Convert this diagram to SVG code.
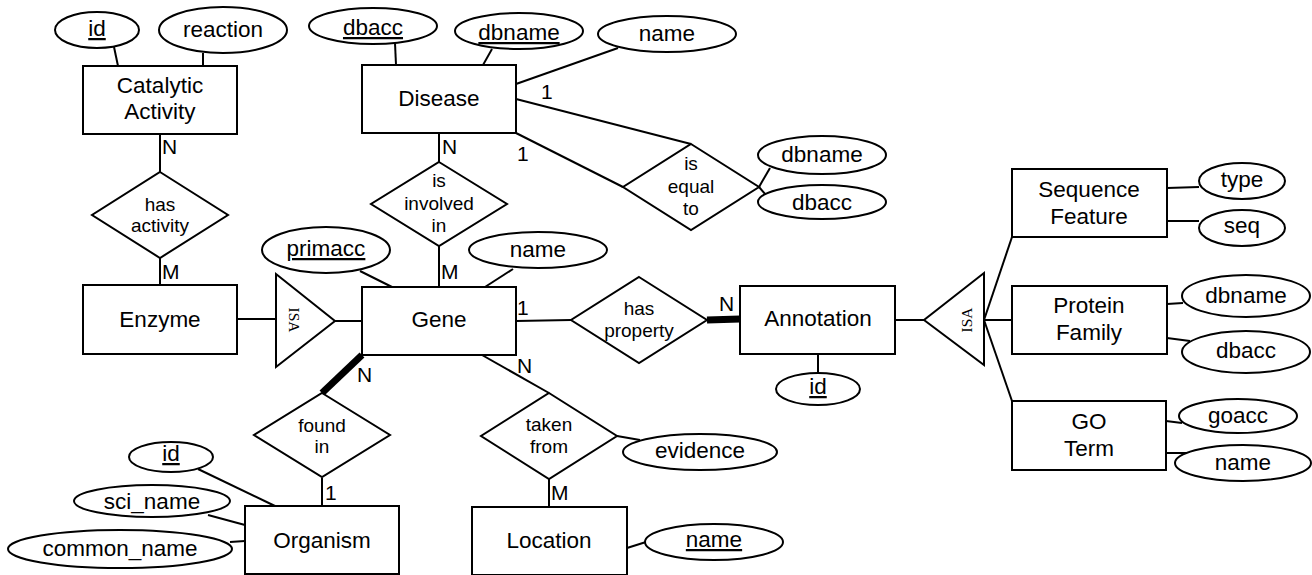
<svg xmlns="http://www.w3.org/2000/svg" width="1312" height="575" viewBox="0 0 1312 575">
<style>
text{font-family:"Liberation Sans",Arial,sans-serif;fill:#000}
.ent{fill:#fff;stroke:#000;stroke-width:2}
.att{fill:#fff;stroke:#000;stroke-width:2}
.rel{fill:#fff;stroke:#000;stroke-width:2}
.isa{fill:#fff;stroke:#000;stroke-width:2}
.t{font-size:22.5px;text-anchor:middle}
.r{font-size:19px;text-anchor:middle}
.k{font-size:21px}
.u{text-decoration:underline}
.s{font-family:"Liberation Serif","Times New Roman",serif;font-size:15.5px;text-anchor:middle;dominant-baseline:central}
#connectors line{stroke:#000;stroke-width:2}
#connectors line.thick{stroke-width:7}
</style>
<rect width="1312" height="575" fill="#fff"/>
<g id="connectors">
<line x1="114" y1="47" x2="118" y2="66"/>
<line x1="203" y1="53" x2="203" y2="66"/>
<line x1="160" y1="134" x2="160" y2="172"/>
<line x1="160" y1="258" x2="160" y2="285"/>
<line x1="237" y1="319" x2="276" y2="319"/>
<line x1="335" y1="321" x2="362" y2="321"/>
<line x1="395" y1="43" x2="396" y2="65"/>
<line x1="492" y1="49" x2="483" y2="65"/>
<line x1="618" y1="48" x2="516" y2="84"/>
<line x1="516" y1="99" x2="691" y2="144"/>
<line x1="516" y1="133" x2="623" y2="187"/>
<line x1="759" y1="187" x2="770" y2="168"/>
<line x1="759" y1="187" x2="766" y2="195"/>
<line x1="439" y1="133" x2="439" y2="162"/>
<line x1="439" y1="246" x2="439" y2="287"/>
<line x1="360" y1="271" x2="392" y2="287"/>
<line x1="513" y1="269" x2="485" y2="287"/>
<line x1="516" y1="321" x2="571" y2="320"/>
<line class="thick" x1="707" y1="320" x2="740" y2="319"/>
<line x1="818" y1="354" x2="818" y2="373"/>
<line x1="895" y1="320" x2="924" y2="320"/>
<line x1="984" y1="320" x2="1012" y2="237"/>
<line x1="984" y1="320" x2="1012" y2="320"/>
<line x1="984" y1="320" x2="1012" y2="401"/>
<line x1="1167" y1="188" x2="1199" y2="187"/>
<line x1="1167" y1="221" x2="1199" y2="221"/>
<line x1="1167" y1="304" x2="1183" y2="303"/>
<line x1="1167" y1="338" x2="1190" y2="341"/>
<line x1="1166" y1="421" x2="1182" y2="423"/>
<line x1="1166" y1="453" x2="1190" y2="453"/>
<line class="thick" x1="362" y1="355" x2="322" y2="393"/>
<line x1="322" y1="478" x2="322" y2="506"/>
<line x1="198" y1="469" x2="275" y2="506"/>
<line x1="208" y1="515" x2="245" y2="525"/>
<line x1="230" y1="542" x2="245" y2="541"/>
<line x1="482" y1="355" x2="549" y2="393"/>
<line x1="617" y1="436" x2="640" y2="440"/>
<line x1="549" y1="478" x2="549" y2="507"/>
<line x1="627" y1="548" x2="646" y2="542"/>
</g>
<g id="cardinalities">
<text class="k" x="162" y="154">N</text>
<text class="k" x="162" y="279">M</text>
<text class="k" x="442" y="154">N</text>
<text class="k" x="441" y="279">M</text>
<text class="k" x="541" y="99">1</text>
<text class="k" x="517" y="161">1</text>
<text class="k" x="517" y="315">1</text>
<text class="k" x="719" y="311">N</text>
<text class="k" x="357" y="382">N</text>
<text class="k" x="517" y="373">N</text>
<text class="k" x="325" y="500">1</text>
<text class="k" x="551" y="500">M</text>
</g>
<g id="catalytic-activity"><rect class="ent" x="83" y="66" width="154" height="68"/><text class="t" x="160" y="93">Catalytic</text><text class="t" x="160" y="119">Activity</text></g>
<g id="disease"><rect class="ent" x="362" y="65" width="154" height="68"/><text class="t" x="439" y="106">Disease</text></g>
<g id="enzyme"><rect class="ent" x="83" y="285" width="154" height="69"/><text class="t" x="160" y="327">Enzyme</text></g>
<g id="gene"><rect class="ent" x="362" y="287" width="154" height="68"/><text class="t" x="439" y="327">Gene</text></g>
<g id="annotation"><rect class="ent" x="740" y="286" width="155" height="68"/><text class="t" x="818" y="326">Annotation</text></g>
<g id="sequence-feature"><rect class="ent" x="1012" y="169" width="155" height="68"/><text class="t" x="1089" y="197">Sequence</text><text class="t" x="1089" y="224">Feature</text></g>
<g id="protein-family"><rect class="ent" x="1012" y="286" width="155" height="68"/><text class="t" x="1089" y="313">Protein</text><text class="t" x="1089" y="340">Family</text></g>
<g id="go-term"><rect class="ent" x="1012" y="401" width="154" height="69"/><text class="t" x="1089" y="429">GO</text><text class="t" x="1089" y="456">Term</text></g>
<g id="organism"><rect class="ent" x="245" y="506" width="154" height="68"/><text class="t" x="322" y="548">Organism</text></g>
<g id="location"><rect class="ent" x="472" y="507" width="155" height="68"/><text class="t" x="549" y="548">Location</text></g>
<g id="has-activity"><polygon class="rel" points="160,172 228,215 160,258 92,215"/><text class="r" x="160" y="211">has</text><text class="r" x="160" y="232">activity</text></g>
<g id="is-involved-in"><polygon class="rel" points="439,162 507,204 439,246 371,204"/><text class="r" x="439" y="187">is</text><text class="r" x="439" y="210">involved</text><text class="r" x="439" y="232">in</text></g>
<g id="is-equal-to"><polygon class="rel" points="691,144 759,187 691,230 623,187"/><text class="r" x="691" y="170">is</text><text class="r" x="691" y="193">equal</text><text class="r" x="691" y="215">to</text></g>
<g id="has-property"><polygon class="rel" points="639,277 707,320 639,363 571,320"/><text class="r" x="639" y="315">has</text><text class="r" x="639" y="337">property</text></g>
<g id="found-in"><polygon class="rel" points="322,393 390,435 322,477 254,435"/><text class="r" x="322" y="432">found</text><text class="r" x="322" y="453">in</text></g>
<g id="taken-from"><polygon class="rel" points="549,393 617,436 549,479 481,436"/><text class="r" x="549" y="431">taken</text><text class="r" x="549" y="453">from</text></g>
<g id="isa-enzyme"><polygon class="isa" points="276,274 335,321 276,367"/><text class="s" transform="translate(294,320) rotate(90)">ISA</text></g>
<g id="isa-annotation"><polygon class="isa" points="984,273 924,320 984,365"/><text class="s" transform="translate(966,320) rotate(-90)">ISA</text></g>
<g id="attr-ca-id"><ellipse class="att" cx="97" cy="30" rx="42" ry="18"/><text class="t u" x="97" y="36">id</text></g>
<g id="attr-ca-reaction"><ellipse class="att" cx="223" cy="30" rx="64" ry="23"/><text class="t" x="223" y="37">reaction</text></g>
<g id="attr-disease-dbacc"><ellipse class="att" cx="373" cy="26" rx="64" ry="18"/><text class="t u" x="373" y="35">dbacc</text></g>
<g id="attr-disease-dbname"><ellipse class="att" cx="519" cy="31" rx="64" ry="18"/><text class="t u" x="519" y="40">dbname</text></g>
<g id="attr-disease-name"><ellipse class="att" cx="667" cy="34" rx="69" ry="18"/><text class="t" x="667" y="41">name</text></g>
<g id="attr-eq-dbname"><ellipse class="att" cx="822" cy="155" rx="64" ry="19"/><text class="t" x="822" y="162">dbname</text></g>
<g id="attr-eq-dbacc"><ellipse class="att" cx="822" cy="202" rx="64" ry="17"/><text class="t" x="822" y="210">dbacc</text></g>
<g id="attr-gene-primacc"><ellipse class="att" cx="326" cy="250" rx="64" ry="23"/><text class="t u" x="326" y="256">primacc</text></g>
<g id="attr-gene-name"><ellipse class="att" cx="538" cy="250" rx="69" ry="18"/><text class="t" x="538" y="257">name</text></g>
<g id="attr-annotation-id"><ellipse class="att" cx="818" cy="389" rx="42" ry="16"/><text class="t u" x="818" y="394">id</text></g>
<g id="attr-sf-type"><ellipse class="att" cx="1242" cy="181" rx="43" ry="18"/><text class="t" x="1242" y="187">type</text></g>
<g id="attr-sf-seq"><ellipse class="att" cx="1242" cy="228" rx="43" ry="18"/><text class="t" x="1242" y="233">seq</text></g>
<g id="attr-pf-dbname"><ellipse class="att" cx="1246" cy="296" rx="64" ry="21"/><text class="t" x="1246" y="303">dbname</text></g>
<g id="attr-pf-dbacc"><ellipse class="att" cx="1246" cy="352" rx="64" ry="21"/><text class="t" x="1246" y="358">dbacc</text></g>
<g id="attr-go-goacc"><ellipse class="att" cx="1238" cy="416" rx="59" ry="17"/><text class="t" x="1238" y="423">goacc</text></g>
<g id="attr-go-name"><ellipse class="att" cx="1243" cy="463" rx="68" ry="18"/><text class="t" x="1243" y="470">name</text></g>
<g id="attr-evidence"><ellipse class="att" cx="700" cy="452" rx="77" ry="18"/><text class="t" x="700" y="458">evidence</text></g>
<g id="attr-location-name"><ellipse class="att" cx="714" cy="542" rx="69" ry="18"/><text class="t u" x="714" y="547">name</text></g>
<g id="attr-org-id"><ellipse class="att" cx="171" cy="457" rx="42" ry="15"/><text class="t u" x="171" y="461">id</text></g>
<g id="attr-org-sciname"><ellipse class="att" cx="152" cy="501" rx="78" ry="16"/><text class="t" x="152" y="509">sci_name</text></g>
<g id="attr-org-commonname"><ellipse class="att" cx="120" cy="549" rx="112" ry="19"/><text class="t" x="120" y="556">common_name</text></g>
</svg>
